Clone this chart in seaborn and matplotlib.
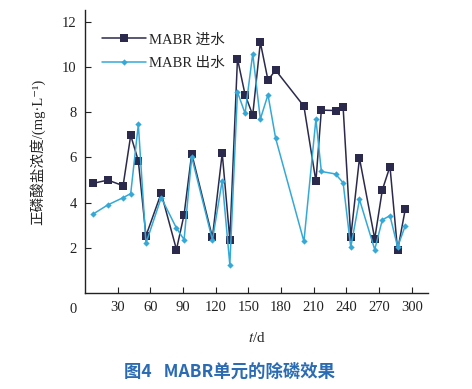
import matplotlib
matplotlib.use("Agg")
import matplotlib.pyplot as plt
import seaborn as sns
import pandas as pd

# 取样时间 / d
days = [7, 21, 35, 42, 49, 56, 70, 84, 91, 98, 117, 126, 133, 140, 147, 154,
        161, 168, 175, 201, 212, 217, 230, 237, 244, 252, 266, 273, 280, 287, 294]
# 进水正磷酸盐浓度
inflow = [4.85, 5.0, 4.75, 6.98, 5.85, 2.53, 4.42, 1.92, 3.47, 6.17, 2.46, 6.19,
          2.36, 10.38, 8.78, 7.88, 11.1, 9.43, 9.87, 8.27, 4.95, 8.1, 8.08, 8.22,
          2.47, 5.97, 2.4, 4.57, 5.6, 1.88, 3.7]
# 出水正磷酸盐浓度
outflow = [3.48, 3.9, 4.22, 4.4, 7.47, 2.2, 4.22, 2.87, 2.36, 6.02, 2.34, 4.98,
           1.24, 8.9, 7.95, 10.6, 7.7, 8.78, 6.86, 2.28, 7.7, 5.38, 5.27, 4.88,
           2.02, 4.14, 1.92, 3.24, 3.42, 2.04, 2.97]

df = pd.DataFrame({"t": days, "in": inflow, "out": outflow})

sns.set_style("ticks")
plt.rcParams['font.family'] = ['Liberation Serif', 'Noto Sans CJK SC', 'DejaVu Sans']
plt.rcParams['mathtext.fontset'] = 'stix'

fig = plt.figure(figsize=(4.72, 3.89), dpi=100)
ax = fig.add_axes([0.180, 0.247, 0.727, 0.727])

sns.lineplot(data=df, x="t", y="in", ax=ax, color="#2b2a4d", lw=1.1,
             marker="s", markersize=5.5, markeredgewidth=0, label="MABR 进水")
sns.lineplot(data=df, x="t", y="out", ax=ax, color="#34a9d8", lw=1.1,
             marker="D", markersize=3.2, markeredgewidth=0, label="MABR 出水")

ax.set_xlim(0, 315)
ax.set_ylim(0, 12.53)
ax.set_xticks(range(30, 301, 30))
ax.set_yticks(range(2, 13, 2))
ax.tick_params(direction="in", length=4, width=0.8, labelsize=10.5, pad=6,
               colors="#222222")
for s in ["top", "right"]:
    ax.spines[s].set_visible(False)
for s in ["left", "bottom"]:
    ax.spines[s].set_linewidth(1.0)
    ax.spines[s].set_color("#222222")

ax.text(-0.025, -0.035, "0", transform=ax.transAxes, ha="right", va="top",
        fontsize=10.5, color="#222222")

ax.set_xlabel("$t$/d", fontsize=11, labelpad=12)
ax.set_ylabel("正磷酸盐浓度/(mg·L⁻¹)", fontsize=10.5, labelpad=12)

leg = ax.legend(loc="upper left", bbox_to_anchor=(0.02, 0.955), frameon=False,
                fontsize=10.5, handlelength=3.0, handletextpad=0.2,
                labelspacing=0.75, borderaxespad=0.3)

fig.text(0.487, 0.045, "图4   MABR单元的除磷效果", ha="center", va="center",
         fontsize=12.5, color="#2a6bb3", fontweight="bold",
         family=["Noto Sans CJK SC", "DejaVu Sans"])

fig.savefig("out.png", dpi=100)
